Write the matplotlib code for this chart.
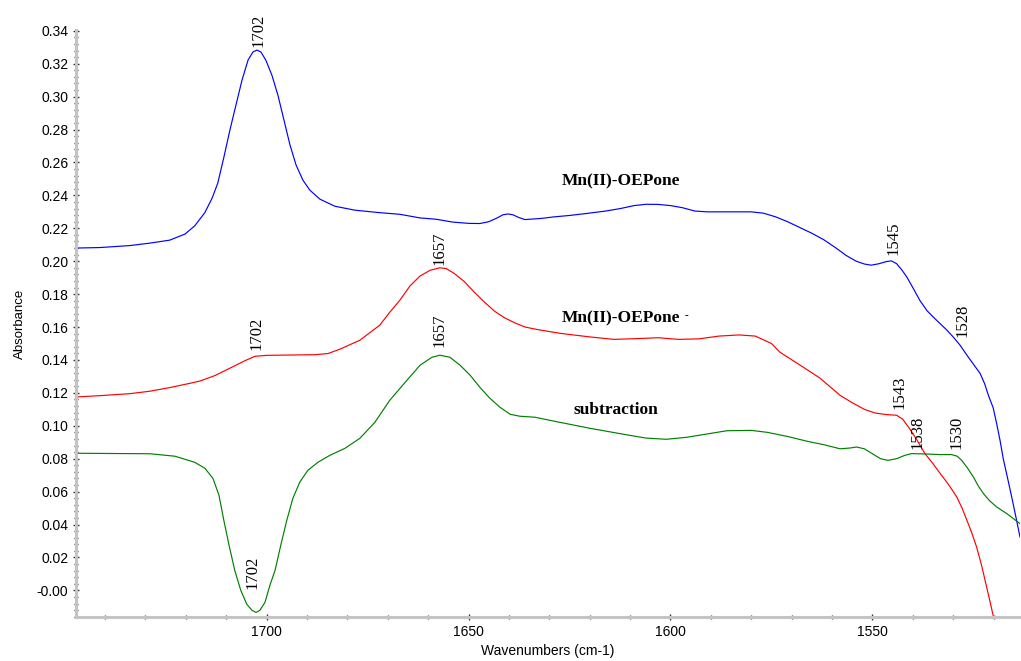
import matplotlib
matplotlib.use("Agg")
import matplotlib.pyplot as plt
from matplotlib.ticker import MultipleLocator, FuncFormatter

# --- spectra (wavenumber in cm-1, absorbance) ---
mn_wn = [1747.2, 1741.3, 1733.9, 1728.9, 1724.0, 1720.2, 1717.8, 1715.3,
         1713.5, 1712.1, 1710.6, 1709.1, 1707.6, 1706.1, 1704.6, 1703.4,
         1702.4, 1701.4, 1700.2, 1698.7, 1697.2, 1695.7, 1694.2, 1692.7,
         1691.0, 1689.3, 1686.8, 1683.1, 1678.1, 1672, 1667, 1662, 1658,
         1654, 1650, 1647.2, 1645, 1643, 1641.5, 1640.2, 1639, 1637.5, 1636,
         1632, 1629, 1625, 1620.8, 1616, 1612.4, 1609, 1606, 1603, 1600, 1597,
         1594, 1591, 1585, 1580, 1577, 1574, 1571, 1568, 1565, 1562, 1559,
         1556.5, 1554, 1552, 1550.3, 1548.5, 1546.5, 1545.3, 1544.0, 1542.8,
         1541.5, 1540, 1538.2, 1536.5, 1534.9, 1533.2, 1531.5, 1530, 1528.3,
         1526.6, 1525, 1523.3, 1522.2, 1521.2, 1520.1, 1519.2, 1518.4, 1517.6,
         1516.6, 1515.5, 1514.5, 1513.45]
mn_abs = [0.2080, 0.2083, 0.2095, 0.2110, 0.2128, 0.2165, 0.2215, 0.2295,
          0.2383, 0.2474, 0.2630, 0.2796, 0.2948, 0.3100, 0.3222, 0.3271,
          0.3283, 0.3271, 0.3222, 0.3131, 0.3009, 0.2857, 0.2705, 0.2584,
          0.2492, 0.2432, 0.2377, 0.2334, 0.2310, 0.2295, 0.2285, 0.2263,
          0.2255, 0.2238, 0.2230, 0.2229, 0.2240, 0.2262, 0.2282, 0.2287,
          0.2282, 0.2265, 0.2253, 0.2260, 0.2269, 0.2278, 0.2290, 0.2305,
          0.2320, 0.2338, 0.2346, 0.2345, 0.2338, 0.2325, 0.2305, 0.2300,
          0.2300, 0.2300, 0.2292, 0.2270, 0.2240, 0.2205, 0.2170, 0.2130,
          0.2080, 0.2035, 0.2000, 0.1983, 0.1976, 0.1984, 0.1998, 0.2002,
          0.1985, 0.1950, 0.1905, 0.1840, 0.1760, 0.1700, 0.1660, 0.1620,
          0.1580, 0.1540, 0.1490, 0.1429, 0.1375, 0.1317, 0.1255, 0.1180,
          0.1110, 0.1010, 0.0912, 0.0800, 0.0690, 0.0567, 0.0450, 0.0324]

anion_wn = [1747.2, 1741.3, 1733.9, 1728.9, 1724.0, 1719.0, 1716.5, 1712.8,
            1709.1, 1705.4, 1702.9, 1700, 1694, 1688, 1684.8, 1681.9, 1676.9,
            1672, 1669.5, 1667, 1664.5, 1662, 1659.5, 1657.1, 1655.5, 1653.5,
            1651, 1648.5, 1646, 1643.5, 1641, 1638.5, 1636, 1633, 1627.4, 1620,
            1614, 1608, 1603, 1598, 1593, 1588, 1583, 1579, 1575, 1572.9, 1568,
            1563, 1558, 1555, 1552, 1549.4, 1546.5, 1544.0, 1542.5, 1541, 1539,
            1537.0, 1535, 1533.3, 1531.2, 1529.1, 1527.8, 1526.6, 1525.4,
            1524.2, 1523.1, 1522.1, 1521.1, 1520.1]
anion_abs = [0.1175, 0.1183, 0.1195, 0.1210, 0.1232, 0.1258, 0.1272, 0.1305,
             0.1350, 0.1395, 0.1422, 0.1428, 0.1430, 0.1432, 0.1439, 0.1465,
             0.1520, 0.1611, 0.1690, 0.1763, 0.1850, 0.1910, 0.1945, 0.1960,
             0.1955, 0.1925, 0.1875, 0.1810, 0.1750, 0.1695, 0.1655, 0.1625,
             0.1600, 0.1585, 0.1562, 0.1540, 0.1525, 0.1530, 0.1535, 0.1525,
             0.1528, 0.1545, 0.1552, 0.1545, 0.1500, 0.1447, 0.1370, 0.1290,
             0.1185, 0.1140, 0.1100, 0.1078, 0.1068, 0.1064, 0.1040, 0.0990,
             0.0915, 0.0831, 0.0770, 0.0713, 0.0645, 0.0567, 0.0500, 0.0426,
             0.0350, 0.0263, 0.0165, 0.0061, -0.0045, -0.0152]

sub_wn = [1747.2, 1728.9, 1722.7, 1717.8, 1715.3, 1713.3, 1711.8, 1710.6,
          1709.3, 1707.9, 1706.4, 1704.9, 1703.6, 1702.6, 1701.7, 1700.4,
          1699.2, 1697.9, 1696.5, 1695.0, 1693.5, 1691.8, 1689.8, 1687.3,
          1684.3, 1680.6, 1676.9, 1673.2, 1669.5, 1665.7, 1662.0, 1659.1,
          1657.1, 1654.6, 1652.1, 1649.6, 1647.2, 1644.7, 1642.2, 1639.7,
          1637.3, 1633.6, 1627.4, 1620, 1612, 1606, 1601, 1596, 1591, 1586,
          1580, 1576, 1571, 1566, 1562, 1558.0, 1555.5, 1553.9, 1552, 1550,
          1548, 1546.1, 1544, 1542, 1540.3, 1536, 1533.3, 1530.4, 1529, 1527.9,
          1526.5, 1525.0, 1523.8, 1522.5, 1521, 1519.2, 1516.7, 1513.45]
sub_abs = [0.0833, 0.0830, 0.0815, 0.0778, 0.0742, 0.0681, 0.0578, 0.0426,
           0.0274, 0.0122, 0.0000, -0.0085, -0.0122, -0.0134, -0.0122,
           -0.0073, 0.0030, 0.0122, 0.0274, 0.0426, 0.0559, 0.0657, 0.0729,
           0.0778, 0.0821, 0.0863, 0.0924, 0.1021, 0.1155, 0.1264, 0.1368,
           0.1416, 0.1429, 0.1416, 0.1368, 0.1307, 0.1234, 0.1167, 0.1112,
           0.1070, 0.1058, 0.1052, 0.1021, 0.0985, 0.0950, 0.0925, 0.0918,
           0.0930, 0.0950, 0.0970, 0.0972, 0.0960, 0.0935, 0.0905, 0.0885,
           0.0860, 0.0865, 0.0871, 0.0860, 0.0830, 0.0800, 0.0790, 0.0800,
           0.0820, 0.0831, 0.0828, 0.0825, 0.0825, 0.0815, 0.0790, 0.0745,
           0.0689, 0.0635, 0.0588, 0.0545, 0.0506, 0.0466, 0.0405]

# peak labels: text, wavenumber and absorbance of the label centre
peak_labels = ["1702", "1702", "1657", "1657", "1702",
               "1545", "1528", "1543", "1538", "1530"]
peak_x = [1702.1, 1702.4, 1657.1, 1657.1, 1703.6,
          1544.9, 1527.7, 1543.4, 1538.9, 1529.2]
peak_y = [0.3400, 0.1562, 0.2079, 0.1581, 0.0109,
          0.2140, 0.1641, 0.1204, 0.0960, 0.0960]

series_names = ["Mn(II)-OEPone", "Mn(II)-OEPone", "subtraction"]
name_x = [1627.0, 1627.0, 1624.1]
name_y = [0.2462, 0.1631, 0.1070]

y_ticks = [0.00, 0.02, 0.04, 0.06, 0.08, 0.10, 0.12, 0.14, 0.16, 0.18,
           0.20, 0.22, 0.24, 0.26, 0.28, 0.30, 0.32, 0.34]
x_ticks = [1700, 1650, 1600, 1550]

sans = ["Liberation Sans", "DejaVu Sans"]
serif = ["Liberation Serif", "DejaVu Serif"]

fig = plt.figure(figsize=(10.21, 6.61), dpi=100)
ax = fig.add_axes([76 / 1021, 1 - 617 / 661, (1020 - 76) / 1021, (617 - 30) / 661])

ax.plot(mn_wn, mn_abs, color="#0000ff", lw=0.85)
ax.plot(anion_wn, anion_abs, color="#ff0000", lw=0.85)
ax.plot(sub_wn, sub_abs, color="#008000", lw=0.85)

ax.set_xlim(1747.2, 1513.45)
ax.set_ylim(-0.0162, 0.3405)

for s in ("top", "right"):
    ax.spines[s].set_visible(False)
for s in ("left", "bottom"):
    ax.spines[s].set_color("#c4c4c4")
    ax.spines[s].set_linewidth(2.2)

ax.set_xticks(x_ticks)
ax.xaxis.set_minor_locator(MultipleLocator(10))
ax.set_yticks(y_ticks)
ax.yaxis.set_minor_locator(MultipleLocator(0.004))
ax.yaxis.set_major_formatter(FuncFormatter(lambda v, p: "-0.00" if abs(v) < 1e-9 else f"{v:.2f}"))
ax.tick_params(which="major", direction="inout", length=5, width=1.0, color="#333333",
               labelsize=10, pad=3)
ax.tick_params(which="minor", direction="inout", length=2.5, width=1.0, color="#333333")
for lab in ax.get_xticklabels() + ax.get_yticklabels():
    lab.set_family(sans)

ax.set_xlabel("Wavenumbers (cm-1)", family=sans, fontsize=10, labelpad=4)
ax.set_ylabel("Absorbance", family=sans, fontsize=9.5, labelpad=8)

for t, x, y in zip(peak_labels, peak_x, peak_y):
    ax.text(x, y, t, rotation=90, ha="center", va="center", family=serif,
            fontsize=12, clip_on=False)

for i, (t, x, y) in enumerate(zip(series_names, name_x, name_y)):
    txt = ax.text(x, y, t, ha="left", va="baseline", family=serif,
                  fontweight="bold", fontsize=12.5)
    if i == 1:
        # small superscript charge sign after the anion name
        ax.annotate("-", xy=(1, 1), xycoords=txt, xytext=(3, -1),
                    textcoords="offset points", ha="left", va="top",
                    family=serif, fontweight="bold", fontsize=8)

fig.savefig("out.png", dpi=100)
